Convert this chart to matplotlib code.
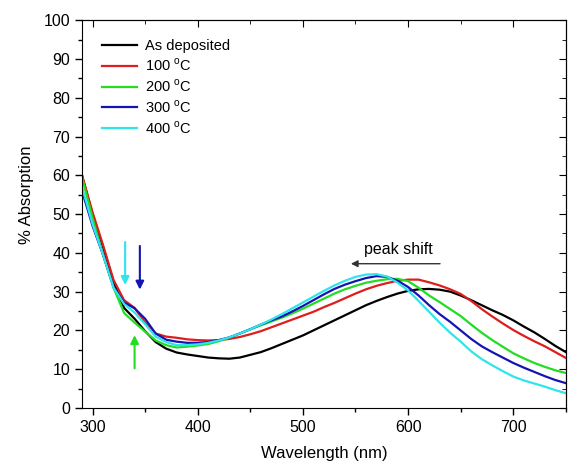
import matplotlib
matplotlib.use('Agg')
import matplotlib.pyplot as plt
import numpy as np
from matplotlib.ticker import MultipleLocator

plt.rcParams['font.family'] = ['Liberation Sans', 'DejaVu Sans']

# Wavelength grid (nm)
wavelength = list(range(290, 751, 10))

# % Absorption
as_deposited = [60, 50, 41.5, 32.5, 25.8, 23, 19.8, 17, 15.3, 14.3,
                13.8, 13.4, 13, 12.8, 12.7, 13, 13.7, 14.4, 15.4, 16.5,
                17.6, 18.7, 20, 21.3, 22.6, 23.9, 25.2, 26.5, 27.6, 28.6,
                29.5, 30.2, 30.6, 30.7, 30.5, 30, 29, 27.8, 26.5, 25.2,
                24, 22.6, 21, 19.5, 17.8, 16, 14.4]
t100 = [60, 50.5, 42, 33, 27.8, 25.8, 22, 19.2, 18.4, 18.1,
        17.7, 17.5, 17.4, 17.5, 17.8, 18.3, 19, 19.8, 20.8, 21.8,
        22.8, 23.8, 24.8, 26, 27.1, 28.3, 29.5, 30.6, 31.5, 32.2,
        32.8, 33.1, 33.1, 32.4, 31.6, 30.6, 29.4, 27.6, 25.5, 23.6,
        21.8, 20.1, 18.6, 17.2, 15.9, 14.4, 12.9]
t200 = [59.5, 49, 39.5, 31, 24.5, 22, 19.7, 17.4, 16.2, 15.6,
        15.8, 16.1, 16.5, 17.2, 18.1, 19.2, 20.3, 21.3, 22.3, 23.3,
        24.4, 25.6, 26.9, 28.2, 29.5, 30.6, 31.5, 32.3, 32.8, 33.2,
        33.3, 32.7, 31, 29, 27.3, 25.5, 23.7, 21.5, 19.4, 17.5,
        15.8, 14.1, 12.8, 11.6, 10.6, 9.7, 9]
t300 = [56, 47, 39.5, 31.2, 27.2, 25.7, 23, 19.2, 17.6, 17.1,
        16.8, 16.8, 17, 17.5, 18.2, 19.2, 20.3, 21.5, 22.6, 23.6,
        24.9, 26.3, 27.8, 29.3, 30.7, 31.8, 32.7, 33.5, 34, 33.8,
        32.8, 31.2, 29, 26.5, 24.2, 22.2, 20, 17.8, 15.9, 14.4,
        13, 11.6, 10.4, 9.3, 8.2, 7.2, 6.4]
t400 = [57, 47.5, 39.5, 31, 26.8, 24.6, 21.6, 18.4, 17, 16.2,
        16.2, 16.4, 16.8, 17.4, 18.2, 19.2, 20.3, 21.5, 22.8, 24.2,
        25.7, 27.2, 28.7, 30.2, 31.6, 32.8, 33.8, 34.4, 34.5, 33.9,
        32.3, 30.3, 27.6, 24.8, 22, 19.4, 17.1, 14.6, 12.6, 11,
        9.5, 8.1, 7.1, 6.3, 5.5, 4.6, 3.8]

series = [as_deposited, t100, t200, t300, t400]
labels = ['As deposited', '100 $^{\\mathregular{o}}$C', '200 $^{\\mathregular{o}}$C',
          '300 $^{\\mathregular{o}}$C', '400 $^{\\mathregular{o}}$C']
colors = ['black', '#dc1e1e', '#22dd22', '#1414b4', '#30e4ec']

fig = plt.figure(figsize=(5.71, 4.70), dpi=100)
ax = fig.add_axes([0.1436, 0.132, 0.8474, 0.825])

for y, lab, c in zip(series, labels, colors):
    ax.plot(wavelength, y, color=c, lw=1.6, label=lab)

ax.set_xlim(290, 750)
ax.set_ylim(0, 100)
ax.xaxis.set_major_locator(MultipleLocator(100))
ax.xaxis.set_minor_locator(MultipleLocator(50))
ax.yaxis.set_major_locator(MultipleLocator(10))
ax.yaxis.set_minor_locator(MultipleLocator(5))
ax.tick_params(which='major', direction='out', length=5, width=1, labelsize=11.5)
ax.tick_params(which='minor', direction='out', length=3, width=1)

# mirrored inward ticks on top and right
top = ax.secondary_xaxis('top')
top.xaxis.set_major_locator(MultipleLocator(100))
top.xaxis.set_minor_locator(MultipleLocator(50))
top.tick_params(which='major', direction='in', length=5, labeltop=False)
top.tick_params(which='minor', direction='in', length=3)
right = ax.secondary_yaxis('right')
right.yaxis.set_major_locator(MultipleLocator(10))
right.yaxis.set_minor_locator(MultipleLocator(5))
right.tick_params(which='major', direction='in', length=5, labelright=False)
right.tick_params(which='minor', direction='in', length=3)

ax.set_xlabel('Wavelength (nm)', fontsize=12, labelpad=8)
ax.set_ylabel('% Absorption', fontsize=12, labelpad=8)
ax.yaxis.set_label_coords(-0.1, 0.55)

ax.legend(loc='upper left', frameon=False, fontsize=10.5, handlelength=2.4,
          handletextpad=0.5, labelspacing=0.28, bbox_to_anchor=(0.015, 0.985))

# markers for the UV shoulder
arrow_kw = dict(arrowstyle='-|>', lw=1.5, mutation_scale=12)
ax.annotate('', xy=(331, 31), xytext=(331, 43.5),
            arrowprops=dict(color='#30e4ec', **arrow_kw))
ax.annotate('', xy=(345, 29.8), xytext=(345, 42.5),
            arrowprops=dict(color='#1414b4', **arrow_kw))
ax.annotate('', xy=(340, 19.5), xytext=(340, 9.5),
            arrowprops=dict(color='#22dd22', **arrow_kw))

# peak shift arrow
ax.annotate('', xy=(543, 37.2), xytext=(633, 37.2),
            arrowprops=dict(arrowstyle='-|>', color='#333333', lw=1, mutation_scale=10))
ax.text(591, 40.8, 'peak shift', fontsize=11.5, ha='center', va='center')

fig.savefig('out.png', dpi=100)
